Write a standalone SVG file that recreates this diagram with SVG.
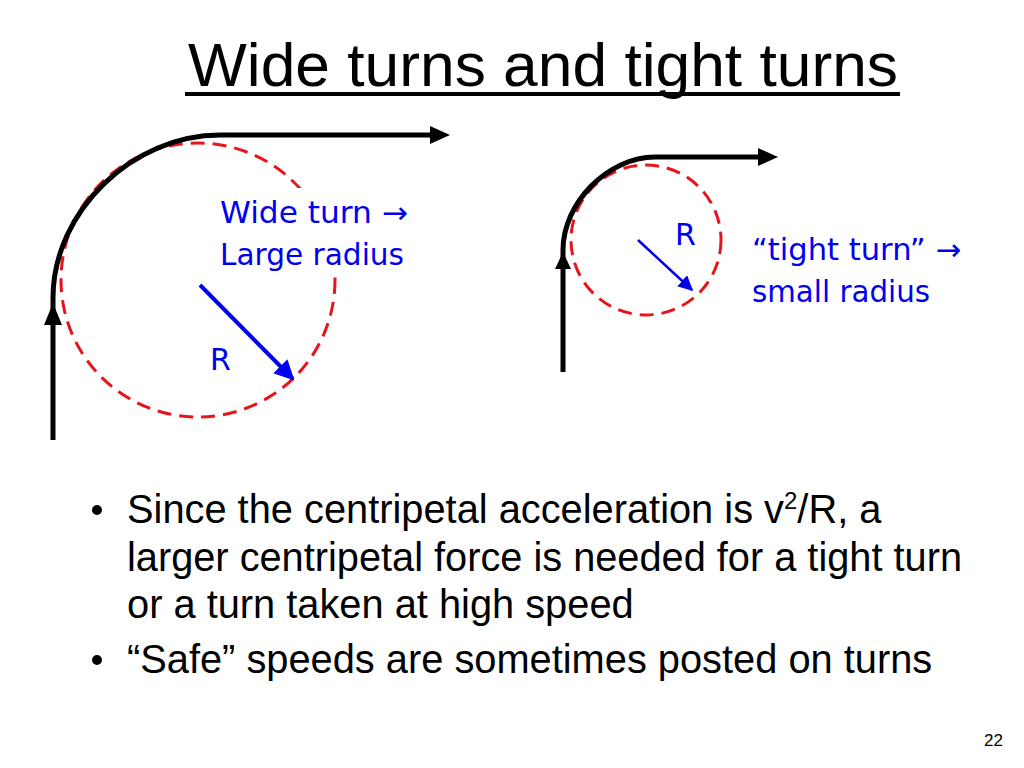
<svg xmlns="http://www.w3.org/2000/svg" width="1024" height="768" viewBox="0 0 1024 768">
<defs>
<style>
.title{font-family:"Liberation Sans",Arial,sans-serif;font-size:62px;fill:#000}
.body{font-family:"Liberation Sans",Arial,sans-serif;font-size:39.8px;fill:#000}
.lbl{font-family:"DejaVu Sans",Verdana,sans-serif;font-size:30px;fill:#0000ee}
.path{fill:none;stroke:#000;stroke-width:5}
.circ{fill:none;stroke:#e8141b;stroke-width:3;stroke-dasharray:14 8}
.rad{stroke:#0000ee;fill:none}
</style>
<marker id="blk" viewBox="0 0 20 18" refX="0" refY="9" markerWidth="20" markerHeight="18" markerUnits="userSpaceOnUse" orient="auto">
<path d="M0,0 L20,9 L0,18 Z" fill="#000"/>
</marker>
<marker id="blu" viewBox="0 0 10 10" refX="9" refY="5" markerWidth="5" markerHeight="5" orient="auto">
<path d="M0,0 L10,5 L0,10 Z" fill="#0000ee"/>
</marker>
<marker id="blu2" viewBox="0 0 10 10" refX="9" refY="5" markerWidth="6" markerHeight="6" orient="auto">
<path d="M0,0 L10,5 L0,10 Z" fill="#0000ee"/>
</marker>
</defs>
<rect width="1024" height="768" fill="#fff"/>

<g id="title">
<text class="title" x="188" y="86" textLength="710" lengthAdjust="spacingAndGlyphs">Wide turns and tight turns</text>
<rect x="185" y="92" width="715" height="4" fill="#000"/>
</g>

<g id="wide-turn">
<circle class="circ" cx="198" cy="280" r="137"/>
<rect x="212" y="188" width="200" height="88" fill="#fff"/>
<path class="path" d="M53,440 L53,298 C53,211 133,135 220,135 L430,135" marker-end="url(#blk)"/>
<polygon points="53,303 44,325 62,325" fill="#000"/>
<line class="rad" x1="200" y1="285" x2="293" y2="379" stroke-width="4" marker-end="url(#blu)"/>
<text class="lbl" x="220" y="223" textLength="188" lengthAdjust="spacingAndGlyphs">Wide turn →</text>
<text class="lbl" x="220" y="265" textLength="184" lengthAdjust="spacingAndGlyphs">Large radius</text>
<text class="lbl" x="210" y="370">R</text>
</g>

<g id="tight-turn">
<circle class="circ" cx="646" cy="240" r="75"/>
<path class="path" d="M563,372 L563,250 C563,203 608,157 655,157 L758,157" marker-end="url(#blk)"/>
<polygon points="563,252 555,269 571,269" fill="#000"/>
<line class="rad" x1="638" y1="240" x2="692" y2="290" stroke-width="2.5" marker-end="url(#blu2)"/>
<text class="lbl" x="675" y="245">R</text>
<text class="lbl" x="752" y="260" textLength="209" lengthAdjust="spacingAndGlyphs">“tight turn” →</text>
<text class="lbl" x="752" y="302" textLength="178" lengthAdjust="spacingAndGlyphs">small radius</text>
</g>

<g id="bullets">
<circle cx="97" cy="510" r="5" fill="#000"/>
<text class="body" x="127" y="523">Since the centripetal acceleration is v<tspan font-size="24" dy="-14">2</tspan><tspan dy="14">/R, a</tspan></text>
<text class="body" x="127" y="571" textLength="835" lengthAdjust="spacingAndGlyphs">larger centripetal force is needed for a tight turn</text>
<text class="body" x="127" y="618">or a turn taken at high speed</text>
<circle cx="97" cy="660" r="5" fill="#000"/>
<text class="body" x="127" y="673">“Safe” speeds are sometimes posted on turns</text>
</g>

<text id="page" x="984" y="746" font-family="Liberation Sans, Arial, sans-serif" font-size="17" fill="#000">22</text>
</svg>
